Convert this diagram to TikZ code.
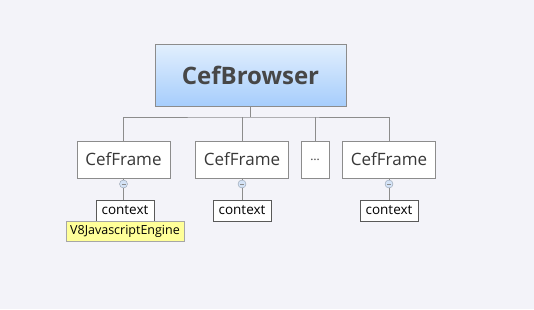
\documentclass[tikz,border=0pt]{standalone}
\usepackage{fontspec}
\setmainfont{Open Sans}
\usetikzlibrary{positioning}
\definecolor{bgcolor}{HTML}{F3F3F9}
\definecolor{linecolor}{HTML}{8C8C8C}
\definecolor{topcolor}{HTML}{E2EFFD}
\definecolor{bottomcolor}{HTML}{A6CDFC}
\definecolor{notecolor}{HTML}{FFFF99}
\definecolor{knobcolor}{HTML}{D4E3F7}
\tikzset{
    root_style/.style={
        draw=linecolor,
        top color=topcolor,
        bottom color=bottomcolor,
        minimum width=191pt,
        minimum height=62pt,
        text=black!72,
        font=\fontsize{24}{28}\selectfont\bfseries
    },
    frame_style/.style={
        draw=linecolor,
        fill=white,
        minimum width=93pt,
        minimum height=37pt,
        text=black!78,
        font=\fontsize{17}{20}\selectfont
    },
    context_style/.style={
        draw=black!65,
        fill=white,
        minimum width=58pt,
        minimum height=21pt,
        inner sep=1pt,
        font=\fontsize{13.5}{15}\selectfont
    },
    note_style/.style={
        draw=black!35,
        fill=notecolor,
        minimum width=118pt,
        minimum height=20pt,
        inner sep=1pt,
        font=\fontsize{12.5}{15}\selectfont
    },
    knob_style/.style={
        circle,
        draw=black!30!knobcolor,
        fill=knobcolor,
        minimum size=8pt,
        inner sep=0pt
    },
    link_style/.style={
        draw=linecolor,
        line width=0.8pt
    }
}

\begin{document}
\begin{tikzpicture}[x=1pt, y=-1pt]
    \fill[bgcolor] (0,0) rectangle (534,309);
    \useasboundingbox (0,0) rectangle (534,309);

    % nodes
    \node[root_style] (browser) at (250.5,75) {CefBrowser};
    \node[frame_style] (frameA) at (123.5,159.5) {CefFrame};
    \node[frame_style] (frameB) at (242,159.5) {CefFrame};
    \node[frame_style, minimum width=28pt, font=\fontsize{12}{14}\selectfont] (dots) at (315,159.5) {…};
    \node[frame_style] (frameC) at (389,159.5) {CefFrame};

    \coordinate (bus) at (250.5,117);

    \node[knob_style] (knobA) at (123.5,184) {};
    \node[knob_style] (knobB) at (242,184) {};
    \node[knob_style] (knobC) at (389,184) {};

    \node[context_style] (ctxA) at (125,210.5) {context};
    \node[context_style] (ctxB) at (242,210.5) {context};
    \node[context_style] (ctxC) at (389,210.5) {context};
    \node[note_style] (engine) at (125,231) {V8JavascriptEngine};

    % connectors
    \draw[link_style] (browser.south) -- (bus);
    \draw[link_style] (frameA.north) |- (bus) -| (frameC.north);
    \draw[link_style] (frameB.north) -- (frameB.north |- bus);
    \draw[link_style] (dots.north) -- (dots.north |- bus);
    \foreach \f/\k/\c in {frameA/knobA/ctxA, frameB/knobB/ctxB, frameC/knobC/ctxC} {
        \draw[link_style] (\f.south) -- (\k.north);
        \draw[link_style] (\k.south) -- (\k.south |- \c.north);
        \draw[black!45, line width=0.6pt] ([xshift=-2pt]\k.center) -- ([xshift=2pt]\k.center);
    }
\end{tikzpicture}
\end{document}
